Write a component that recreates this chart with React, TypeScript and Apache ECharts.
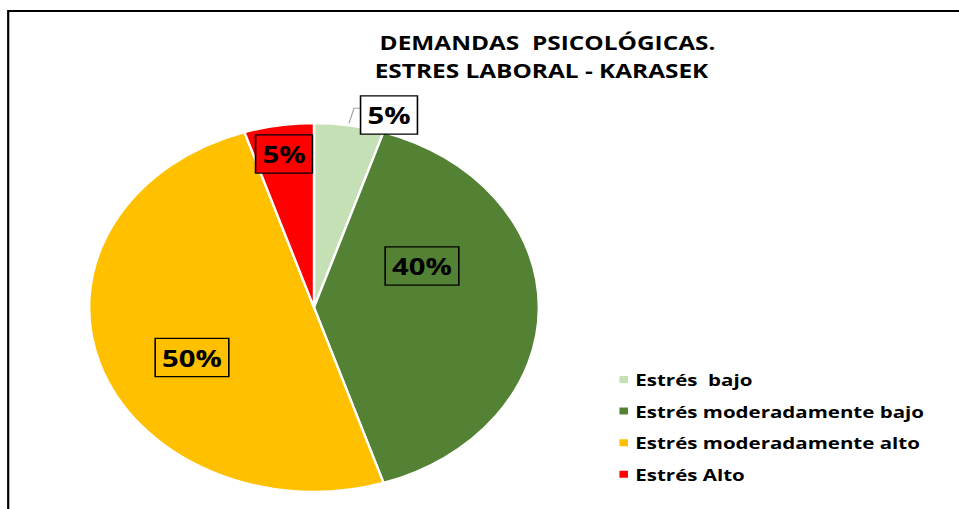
import React, { useEffect, useRef } from "react";
import * as echarts from "echarts";

// ---- data ----
const categories = [
  "Estrés  bajo",
  "Estrés moderadamente bajo",
  "Estrés moderadamente alto",
  "Estrés Alto",
];
const values = [5, 40, 50, 5];
const colors = ["#C5E0B4", "#548235", "#FFC000", "#FF0000"];
const titleLines = ["DEMANDAS  PSICOLÓGICAS.", "ESTRES LABORAL - KARASEK"];

// ---- layout (the original picture is stretched horizontally) ----
const W = 786;
const H = 509;
const S = 959 / W;
const FONT = "'Open Sans', 'Noto Sans', sans-serif";
// label centers in picture pixels
const LABEL_POS = [
  [389, 115],
  [422, 266],
  [192, 357.5],
  [284, 154],
];
const LEADER = [
  [349, 123.3],
  [354, 108.3],
  [362, 108.3],
];

export default function App() {
  const ref = useRef<HTMLDivElement>(null);
  useEffect(() => {
    if (!ref.current) return;
    const chart = echarts.init(ref.current, undefined, { renderer: "svg" });
    chart.setOption({
      animation: false,
      backgroundColor: "#fff",
      graphic: [
        {
          type: "rect",
          silent: true,
          shape: { x: 8.2 / S, y: 11, width: 3000, height: 3000 },
          style: { fill: "none", stroke: "#000", lineWidth: 1.8 },
        },
        {
          type: "text",
          x: 547.5 / S,
          y: 42.5,
          style: {
            text: titleLines[0],
            fontFamily: FONT,
            fontSize: 20,
            fontWeight: "bold",
            fill: "#000",
            align: "center",
            verticalAlign: "middle",
          },
        },
        {
          type: "text",
          x: 541.5 / S,
          y: 70.5,
          style: {
            text: titleLines[1],
            fontFamily: FONT,
            fontSize: 20,
            fontWeight: "bold",
            fill: "#000",
            align: "center",
            verticalAlign: "middle",
          },
        },
      ],
      legend: {
        orient: "vertical",
        left: 617 / S,
        top: 369.5,
        padding: 0,
        data: categories,
        icon: "rect",
        itemWidth: 9,
        itemHeight: 9,
        itemGap: 11.6,
        selectedMode: false,
        textStyle: {
          fontFamily: FONT,
          fontSize: 16.8,
          fontWeight: "bold",
          color: "#000",
          lineHeight: 20,
        },
      },
      series: [
        {
          type: "pie",
          center: [314 / S, 307.5],
          radius: 184.3,
          startAngle: 90,
          clockwise: true,
          silent: true,
          emphasis: { disabled: true },
          itemStyle: { borderColor: "#fff", borderWidth: 2 },
          label: {
            show: true,
            formatter: "{d}%",
            fontFamily: FONT,
            fontSize: 24,
            fontWeight: "bold",
            color: "#000",
            borderColor: "#000",
            borderWidth: 1.3,
            padding: [5, 5, 5, 5],
            lineHeight: 27,
          },
          labelLine: {
            lineStyle: { color: "#A6A6A6", width: 1 },
            length: 8,
            length2: 8,
          },
          labelLayout: (p: any) => {
            const i = p.dataIndex;
            const o: any = {
              x: LABEL_POS[i][0] / S,
              y: LABEL_POS[i][1],
              align: "center",
              verticalAlign: "middle",
            };
            if (i === 0) o.labelLinePoints = LEADER.map((q) => [q[0] / S, q[1]]);
            return o;
          },
          data: categories.map((name, i) => ({
            name,
            value: values[i],
            itemStyle: { color: colors[i] },
            label: {
              position: i === 0 ? "outside" : "inside",
              backgroundColor: i === 0 ? "#FFFFFF" : colors[i],
            },
            labelLine: { show: i === 0 },
          })),
        },
      ],
    });
    return () => chart.dispose();
  }, []);
  return (
    <div
      style={{
        position: "fixed",
        left: 0,
        top: 0,
        width: 959,
        height: 509,
        overflow: "hidden",
        background: "#fff",
      }}
    >
      <div
        ref={ref}
        style={{
          width: W,
          height: H,
          transform: `scaleX(${S})`,
          transformOrigin: "0 0",
        }}
      />
    </div>
  );
}
